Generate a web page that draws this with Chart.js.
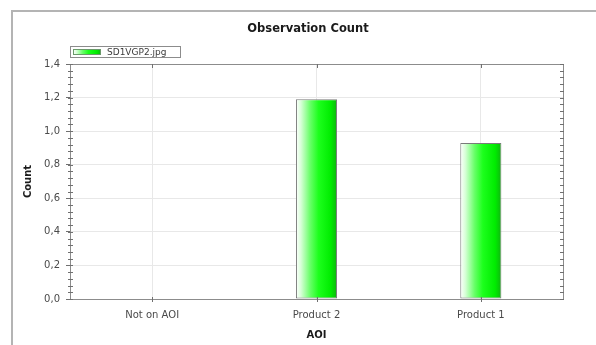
<!DOCTYPE html>
<html>
<head>
<meta charset="utf-8">
<script src="https://cdn.jsdelivr.net/npm/chart.js@4/dist/chart.umd.min.js"></script>
<style>
  html, body { margin: 0; padding: 0; background: #ffffff; }
  #wrap { width: 596px; height: 345px; position: relative; }
</style>
</head>
<body>
<div id="wrap"><canvas id="c" width="596" height="345"></canvas></div>
<script>
// Observation counts per area of interest
const categories = ['Not on AOI', 'Product 2', 'Product 1'];
const seriesName = 'SD1VGP2.jpg';
const counts = [0, 1.19, 0.93];
const yTicks = [0, 0.2, 0.4, 0.6, 0.8, 1.0, 1.2, 1.4];
const chartTitle = 'Observation Count';
const xTitle = 'AOI';
const yTitle = 'Count';

const FONT = '"DejaVu Sans", Verdana, sans-serif';
const BAR_FRACTION = 0.25;

function greenGradient(ctx, x0, x1) {
  const g = ctx.createLinearGradient(x0, 0, x1, 0);
  g.addColorStop(0, '#ffffff');
  g.addColorStop(0.12, '#d8ffd8');
  g.addColorStop(0.35, '#66ff66');
  g.addColorStop(0.55, '#1cff1c');
  g.addColorStop(0.85, '#00ec00');
  g.addColorStop(1, '#10b410');
  return g;
}

function barFill(context) {
  const chart = context.chart;
  const xs = chart.scales.x;
  if (!xs || !chart.chartArea) return '#33ff33';
  const cx = xs.getPixelForValue(context.dataIndex);
  const half = (chart.chartArea.width / categories.length) * BAR_FRACTION / 2;
  return greenGradient(chart.ctx, cx - half, cx + half);
}

// Frame, plot border, minor ticks, title and legend
const decorations = {
  id: 'decorations',
  beforeDraw(chart) {
    const ctx = chart.ctx;
    ctx.save();
    ctx.fillStyle = '#ffffff';
    ctx.fillRect(0, 0, chart.width, chart.height);
    ctx.strokeStyle = '#b4b4b4';
    ctx.lineWidth = 2;
    ctx.beginPath();
    ctx.moveTo(12, chart.height);
    ctx.lineTo(12, 11);
    ctx.lineTo(chart.width, 11);
    ctx.stroke();
    ctx.restore();
  },
  afterDraw(chart) {
    const ctx = chart.ctx;
    const a = chart.chartArea;
    const ys = chart.scales.y;
    const xs = chart.scales.x;
    ctx.save();
    // plot border (top and right)
    ctx.strokeStyle = '#8c8c8c';
    ctx.lineWidth = 1;
    ctx.beginPath();
    ctx.moveTo(Math.round(a.left) + 0.5, Math.round(a.top) + 0.5);
    ctx.lineTo(Math.round(a.right) + 0.5, Math.round(a.top) + 0.5);
    ctx.lineTo(Math.round(a.right) + 0.5, Math.round(a.bottom) + 0.5);
    ctx.stroke();
    // minor ticks on both vertical edges
    ctx.strokeStyle = '#707070';
    ctx.beginPath();
    for (let i = 0; i <= 35; i++) {
      const y = Math.round(ys.getPixelForValue(i * 0.04)) + 0.5;
      ctx.moveTo(a.left - 2, y); ctx.lineTo(a.left + 3, y);
      ctx.moveTo(a.right - 3, y); ctx.lineTo(a.right + 1, y);
    }
    // small ticks on the top and bottom edges at the categories
    for (let i = 0; i < categories.length; i++) {
      const x = Math.round(xs.getPixelForValue(i)) + 0.5;
      ctx.moveTo(x, a.top); ctx.lineTo(x, a.top + 4);
      ctx.moveTo(x, a.bottom - 2); ctx.lineTo(x, a.bottom + 3);
    }
    ctx.stroke();
    // title
    ctx.fillStyle = '#1a1a1a';
    ctx.font = 'bold 11.5px ' + FONT;
    ctx.textAlign = 'center';
    ctx.textBaseline = 'middle';
    ctx.fillText(chartTitle, 308, 29);
    // legend
    const lx = 70, ly = 46, lw = 110, lh = 11;
    ctx.strokeStyle = '#8c8c8c';
    ctx.strokeRect(lx + 0.5, ly + 0.5, lw, lh);
    ctx.fillStyle = greenGradient(ctx, lx + 3, lx + 31);
    ctx.fillRect(lx + 3, ly + 3, 28, 6);
    ctx.strokeStyle = '#6a9a6a';
    ctx.strokeRect(lx + 3.5, ly + 3.5, 27, 5);
    ctx.fillStyle = '#3a3a3a';
    ctx.font = '9px ' + FONT;
    ctx.textAlign = 'left';
    ctx.fillText(chart.data.datasets[0].label, lx + 37, ly + 6.5);
    ctx.restore();
  }
};

new Chart(document.getElementById('c'), {
  type: 'bar',
  data: {
    labels: categories,
    datasets: [{
      label: seriesName,
      data: counts,
      backgroundColor: barFill,
      borderColor: '#7a7a7a',
      borderWidth: 1,
      borderSkipped: false,
      barPercentage: BAR_FRACTION,
      categoryPercentage: 1.0
    }]
  },
  options: {
    responsive: false,
    animation: false,
    devicePixelRatio: 1,
    layout: { padding: { left: 12, top: 64, right: 33, bottom: 0 } },
    plugins: {
      legend: { display: false },
      title: { display: false },
      tooltip: { enabled: false }
    },
    scales: {
      x: {
        offset: true,
        grid: { offset: false, color: '#e8e8e8', drawTicks: false },
        border: { color: '#8c8c8c' },
        ticks: { color: '#4a4a4a', font: { family: FONT, size: 10 }, padding: 10, maxRotation: 0 },
        title: { display: true, text: xTitle, color: '#1a1a1a', font: { family: FONT, size: 10, weight: 'bold' }, padding: { top: 0, bottom: 4 } },
        afterFit(s) { s.height = 46; }
      },
      y: {
        min: 0,
        max: 1.4,
        afterBuildTicks(s) { s.ticks = yTicks.map(v => ({ value: v })); },
        grid: { color: '#e8e8e8', tickColor: '#707070', tickLength: 4 },
        border: { color: '#8c8c8c' },
        ticks: {
          color: '#4a4a4a',
          font: { family: FONT, size: 10 },
          padding: 6,
          callback: v => Number(v).toFixed(1).replace('.', ',')
        },
        title: { display: true, text: yTitle, color: '#1a1a1a', font: { family: FONT, size: 10, weight: 'bold' }, padding: { top: 10, bottom: 0 } },
        afterFit(s) { s.width = 58; }
      }
    }
  },
  plugins: [decorations]
});
</script>
</body>
</html>
